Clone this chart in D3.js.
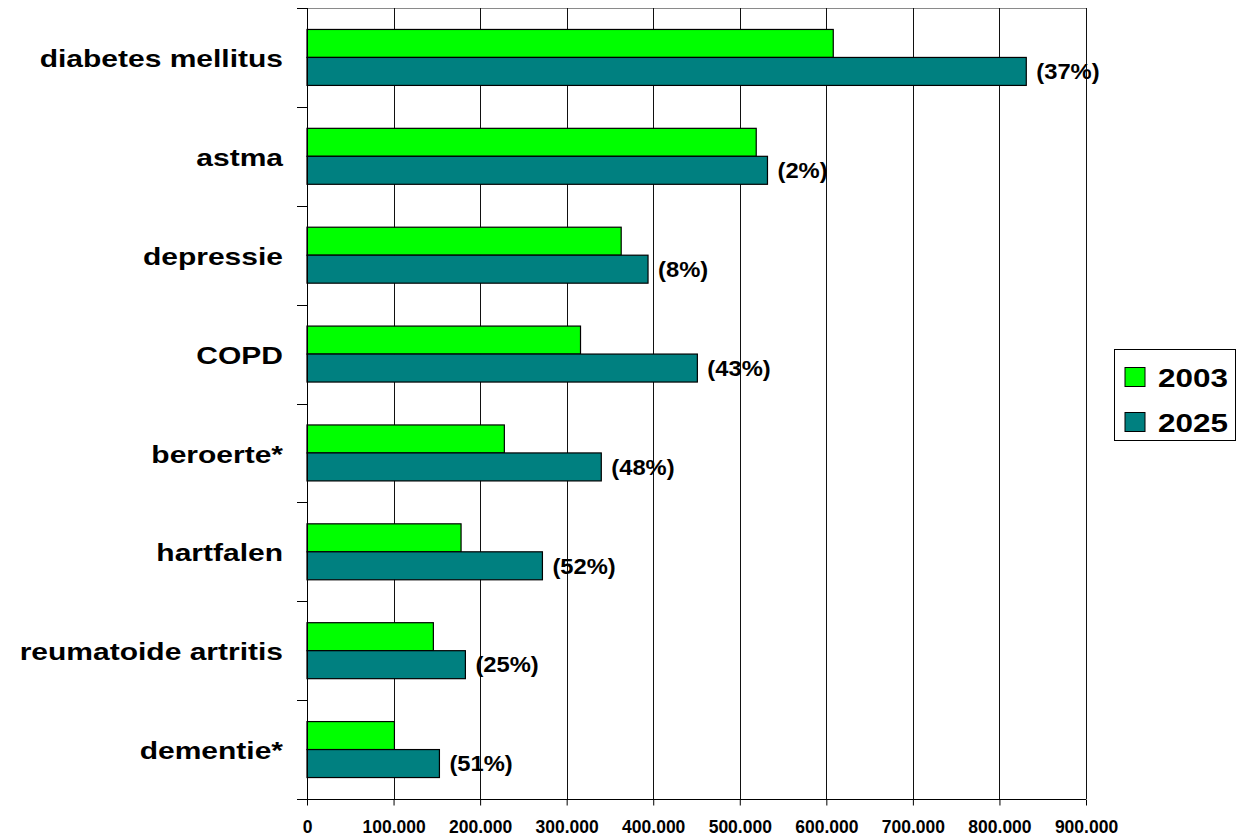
<!DOCTYPE html>
<html>
<head>
<meta charset="utf-8">
<script src="https://cdn.jsdelivr.net/npm/d3@7/dist/d3.min.js"></script>
<style>
  html, body { margin: 0; padding: 0; background: #fff; }
  svg { display: block; font-family: "Liberation Sans", Arial, Helvetica, sans-serif; font-weight: bold; }
</style>
</head>
<body>
<svg id="chart" width="1243" height="839"></svg>
<script>
// Number of patients per chronic condition, 2003 vs. projected 2025
const categories = ["diabetes mellitus", "astma", "depressie", "COPD", "beroerte*", "hartfalen", "reumatoide artritis", "dementie*"];
const series = ["2003", "2025"];
const values2003 = [608000, 519000, 363000, 316000, 228000, 178000, 146000, 101000];
const values2025 = [831000, 532000, 394000, 451000, 340000, 272000, 183000, 153000];
const growthLabels = ["(37%)", "(2%)", "(8%)", "(43%)", "(48%)", "(52%)", "(25%)", "(51%)"];
const xTicks = [0, 100000, 200000, 300000, 400000, 500000, 600000, 700000, 800000, 900000];
const colors = ["#00ff00", "#008080"];

const svg = d3.select("#chart");
const W = 1243, H = 839;
svg.append("rect").attr("width", W).attr("height", H).attr("fill", "#fff");

const plot = { left: 307, right: 1086, top: 8, bottom: 799 };

const x = d3.scaleLinear().domain([0, 900000]).range([plot.left, plot.right]);
const y = d3.scaleBand().domain(categories).range([plot.top, plot.bottom]).padding(0);
const inner = d3.scaleBand().domain(series)
  .range([y.bandwidth() * 0.217, y.bandwidth() * 0.783]).padding(0);

const nl = d3.formatLocale({ decimal: ",", thousands: ".", grouping: [3], currency: ["", ""] });
const fmt = nl.format(",");

// plot-area frame (top edge)
svg.append("line")
  .attr("x1", plot.left).attr("x2", plot.right)
  .attr("y1", plot.top + 0.5).attr("y2", plot.top + 0.5)
  .attr("stroke", "#8a8a8a").attr("stroke-width", 1);

// vertical gridlines
svg.append("g").selectAll("line")
  .data(xTicks.slice(1))
  .join("line")
  .attr("x1", d => Math.round(x(d)) + 0.5).attr("x2", d => Math.round(x(d)) + 0.5)
  .attr("y1", plot.top).attr("y2", plot.bottom)
  .attr("stroke", "#111").attr("stroke-width", 1);

// bars
const rows = categories.map((c, i) => ({ c, v: [values2003[i], values2025[i]], label: growthLabels[i] }));
const group = svg.append("g").selectAll("g")
  .data(rows)
  .join("g")
  .attr("transform", d => `translate(0,${y(d.c)})`);

group.selectAll("rect")
  .data(d => d.v.map((v, k) => ({ s: series[k], v, k })))
  .join("rect")
  .attr("x", x(0))
  .attr("y", d => inner(d.s))
  .attr("width", d => x(d.v) - x(0))
  .attr("height", inner.bandwidth())
  .attr("fill", d => colors[d.k])
  .attr("stroke", "#000")
  .attr("stroke-width", 1.2);

// growth labels next to the 2025 bar (slightly widened type)
group.append("text")
  .attr("transform", d => `translate(${x(d.v[1]) + 10},${inner("2025") + inner.bandwidth() / 2}) scale(1.08,1)`)
  .attr("dy", "0.35em")
  .attr("font-size", 22)
  .attr("fill", "#000")
  .text(d => d.label);

// y axis line
const yAxis = d3.axisLeft(y).tickSize(0).tickFormat("");
svg.append("g").attr("transform", `translate(${plot.left + 0.5},0)`).call(yAxis)
  .call(g => g.select(".domain").attr("stroke", "#000").attr("d", `M0,${plot.top}V${plot.bottom}`));

// y ticks at category boundaries
const bounds = categories.map(c => y(c)).concat([plot.bottom]);
svg.append("g").selectAll("line")
  .data(bounds)
  .join("line")
  .attr("x1", plot.left - 10).attr("x2", plot.left)
  .attr("y1", d => Math.round(d) + 0.5).attr("y2", d => Math.round(d) + 0.5)
  .attr("stroke", "#000");

// category labels, wide bold type
svg.append("g").selectAll("text")
  .data(categories)
  .join("text")
  .attr("transform", d => `translate(283,${y(d) + y.bandwidth() / 2}) scale(1.25,1)`)
  .attr("dy", "0.4em")
  .attr("text-anchor", "end")
  .attr("font-size", 24)
  .attr("fill", "#000")
  .text(d => d);

// x axis
const xAxis = d3.axisBottom(x).tickValues(xTicks).tickSize(6).tickPadding(15).tickFormat(fmt);
const gx = svg.append("g").attr("transform", `translate(0,${plot.bottom + 0.5})`).call(xAxis);
gx.select(".domain").attr("stroke", "#000").attr("d", `M${plot.left - 10},0H${plot.right}`);
gx.selectAll(".tick line").attr("stroke", "#000");
gx.selectAll(".tick text")
  .attr("font-size", 17.5)
  .attr("font-family", "'Liberation Sans', Arial, sans-serif")
  .attr("font-weight", "bold")
  .attr("fill", "#000");

// legend
const lg = svg.append("g").attr("transform", "translate(1114,349)");
lg.append("rect").attr("x", 0.5).attr("y", 0.5).attr("width", 121).attr("height", 91)
  .attr("fill", "#fff").attr("stroke", "#000").attr("stroke-width", 1);
const items = lg.selectAll("g.item")
  .data(series)
  .join("g")
  .attr("class", "item")
  .attr("transform", (d, i) => `translate(0,${18 + i * 45})`);
items.append("rect")
  .attr("x", 11).attr("y", 0.5).attr("width", 20).attr("height", 19)
  .attr("fill", (d, i) => colors[i]).attr("stroke", "#000").attr("stroke-width", 1);
items.append("text")
  .attr("transform", "translate(44,20) scale(1.21,1)")
  .attr("font-size", 26)
  .attr("fill", "#000")
  .text(d => d);
</script>
</body>
</html>
